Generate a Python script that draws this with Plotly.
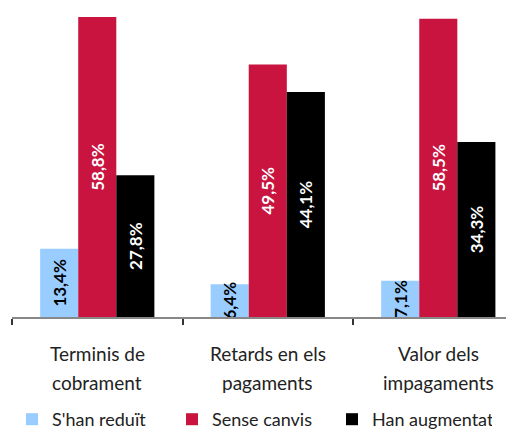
import plotly.graph_objects as go

categories = ["Terminis de<br>cobrament", "Retards en els<br>pagaments", "Valor dels<br>impagaments"]
series_names = ["S'han reduït", "Sense canvis", "Han augmentat"]
reduit = [13.4, 6.4, 7.1]
sense = [58.8, 49.5, 58.5]
augmentat = [27.8, 44.1, 34.3]
colors = ["#99CCFF", "#C8143F", "#000000"]
text_colors = ["#000000", "#FFFFFF", "#FFFFFF"]

FONT = "Lato, 'Open Sans', sans-serif"

fig = go.Figure()
for name, vals, col, tcol in zip(series_names, [reduit, sense, augmentat], colors, text_colors):
    fig.add_trace(go.Bar(
        x=list(range(len(categories))), y=vals, name=name,
        marker=dict(color=col, line=dict(width=0)),
        text=[f"{v:.1f}%".replace(".", ",") for v in vals],
        textposition="inside", insidetextanchor="middle", textangle=-90,
        constraintext="none",
        textfont=dict(family=FONT, size=17, color=tcol, weight="bold"),
        hoverinfo="skip",
    ))

# category labels as two lines each
for i, cat in enumerate(categories):
    for j, line in enumerate(cat.split("<br>")):
        fig.add_annotation(
            x=i, xref="x", y=0, yref="paper", yanchor="middle", xanchor="center",
            yshift=-36 - 29 * j, text=line, showarrow=False,
            font=dict(family=FONT, size=19, color="#222222"),
        )

# tick marks on the boundaries between categories
boundaries = [i - 0.5 for i in range(len(categories))]

fig.update_layout(
    width=514, height=432,
    margin=dict(l=4, r=8, t=3, b=123, autoexpand=False),
    barmode="group", bargap=0.33, bargroupgap=0,
    paper_bgcolor="white", plot_bgcolor="white",
    font=dict(family=FONT, size=17, color="#222222"),
    showlegend=True,
    legend=dict(orientation="h", x=0.0, xanchor="left", y=-0.335, yanchor="middle",
                font=dict(size=18, color="#222222"), entrywidth=115, entrywidthmode="pixels",
                itemsizing="constant", itemwidth=30),
    xaxis=dict(
        range=[-0.5, 2.444], tickmode="array", tickvals=boundaries,
        ticks="outside", ticklen=6,
        tickcolor="#333333", tickwidth=1.5, showticklabels=False, automargin=False,
        showline=True, linecolor="#888888", linewidth=1.5,
        showgrid=False, zeroline=False,
    ),
    yaxis=dict(range=[0, 60], visible=False, showgrid=False, zeroline=False, automargin=False),
)

fig.write_html("out.html")
